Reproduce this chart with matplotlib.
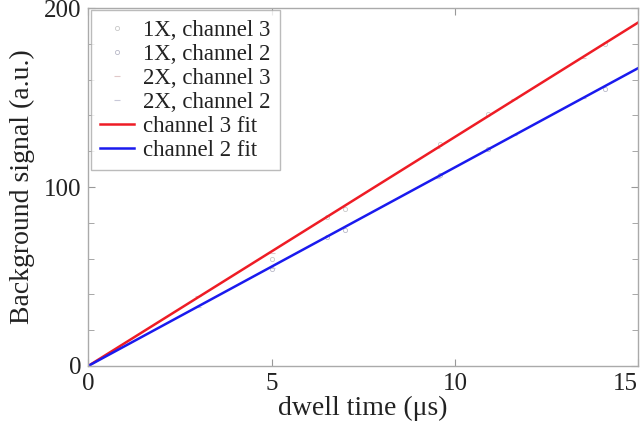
import matplotlib
matplotlib.use('Agg')
import matplotlib.pyplot as plt
import numpy as np

plt.rcParams['font.family'] = ['Liberation Serif', 'DejaVu Serif']

# measured points (faint in the original)
t_1x = [5.0, 6.5, 7.0, 9.6, 10.9, 14.1]
ch3_1x = [60, 83, 88, 124, 141, 180]
ch2_1x = [54, 72, 76, 107, 121, 155]
t_2x = [3.0, 5.0, 9.5, 11.6, 13.5]
ch3_2x = [39, 63, 122, 149, 172]
ch2_2x = [33, 55, 105, 129, 150]

slope3 = 12.8
slope2 = 11.1
t_fit = [0, 15]

fig = plt.figure(figsize=(6.44, 4.30), dpi=100)
ax = fig.add_axes([0.137, 0.149, 0.854, 0.832])

ax.plot(t_1x, ch3_1x, 'o', ms=3, mfc='none', mec='#c8c8c8', mew=0.6, ls='none', label='1X, channel 3')
ax.plot(t_1x, ch2_1x, 'o', ms=3, mfc='none', mec='#b8b8c8', mew=0.6, ls='none', label='1X, channel 2')
ax.plot(t_2x, ch3_2x, '_', ms=5, mec='#e0c8c8', mew=0.8, ls='none', label='2X, channel 3')
ax.plot(t_2x, ch2_2x, '_', ms=5, mec='#c8c8d8', mew=0.8, ls='none', label='2X, channel 2')
ax.plot(t_fit, [slope3 * t for t in t_fit], color='#ee1c25', lw=1.8, label='channel 3 fit')
ax.plot(t_fit, [slope2 * t for t in t_fit], color='#1a1aee', lw=1.8, label='channel 2 fit')

ax.set_xlim(0, 15)
ax.set_ylim(0, 200)
ax.set_xticks([0, 5, 10, 15])
ax.set_yticks([0, 100, 200])
ax.set_yticks(np.arange(0, 201, 20), minor=True)
ax.tick_params(which='both', direction='in', top=True, right=True, colors='#999999',
               labelcolor='#222222', labelsize=18)
ax.tick_params(which='major', length=5)
ax.tick_params(which='minor', length=4)
ax.tick_params(axis='x', pad=5)
ax.tick_params(axis='y', pad=5)
ax.get_xticklabels()[-1].set_ha('right')
for sp in ax.spines.values():
    sp.set_color('#aaaaaa')
    sp.set_linewidth(1.0)

ax.set_xlabel('dwell time (μs)', fontsize=20, color='#222222', labelpad=1)
ax.set_ylabel('Background signal (a.u.)', fontsize=20, color='#222222', labelpad=6)

leg = ax.legend(loc='upper left', fontsize=16.5, frameon=True, fancybox=False,
                handlelength=1.5, handletextpad=0.4, borderpad=0.4, labelspacing=0.13,
                borderaxespad=0.1)
leg.get_frame().set_edgecolor('#aaaaaa')
leg.get_frame().set_linewidth(1.0)
for t in leg.get_texts():
    t.set_color('#222222')

fig.savefig('out.png', dpi=100, facecolor='white')
